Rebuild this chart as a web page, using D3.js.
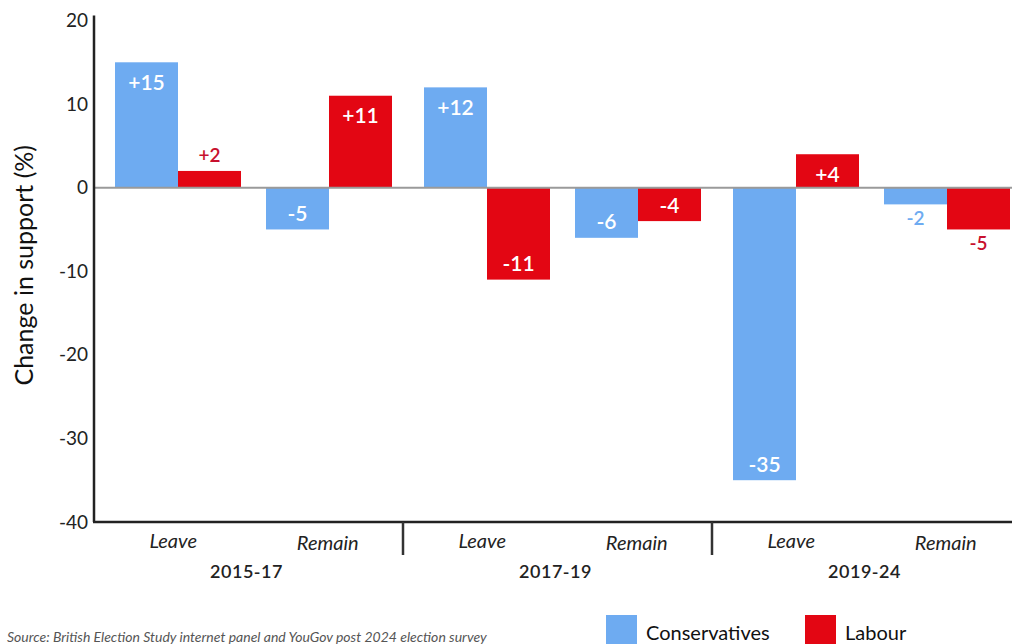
<!DOCTYPE html>
<html>
<head>
<meta charset="utf-8">
<script src="https://cdn.jsdelivr.net/npm/d3@7"></script>
<style>
  html, body { margin: 0; padding: 0; background: #fff; }
  svg { display: block; font-family: Lato, "Open Sans", sans-serif; }
</style>
</head>
<body>
<svg id="chart" width="1012" height="644"></svg>
<script>
// Change in party support among Leave and Remain voters, by election period
const periods = ["2015-17", "2017-19", "2019-24"];
const groups = ["Leave", "Remain"];
const parties = ["Conservatives", "Labour"];
const conservatives = [15, -5, 12, -6, -35, -2];   // Leave, Remain per period
const labour = [2, 11, -11, -4, 4, -5];
const yTicks = [-40, -30, -20, -10, 0, 10, 20];
// value labels that sit beside their (short) bar instead of inside it
const outsideLabels = ["2015-17|Leave|Labour", "2019-24|Remain|Conservatives", "2019-24|Remain|Labour"];

const colors = { Conservatives: "#6eabf1", Labour: "#e30613" };
const outsideColors = { Conservatives: "#6eabf1", Labour: "#c8102e" };

const rows = [];
periods.forEach((p, i) => {
  groups.forEach((g, j) => {
    const k = i * groups.length + j;
    rows.push({ period: p, group: g, party: "Conservatives", value: conservatives[k] });
    rows.push({ period: p, group: g, party: "Labour", value: labour[k] });
  });
});

const svg = d3.select("#chart");
const plotLeft = 94, plotRight = 1021, plotTop = 20.5, plotBottom = 522;

const x0 = d3.scaleBand().domain(periods).range([plotLeft, plotRight]);
const x1 = d3.scaleBand().domain(groups)
  .range([8.5, 310.5]).paddingInner(0.1656).paddingOuter(0.0828);
const x2 = d3.scaleBand().domain(parties).range([0, x1.bandwidth()]);
const y = d3.scaleLinear().domain([-40, 20]).range([plotBottom, plotTop]);

const isOutside = d => outsideLabels.includes(`${d.period}|${d.group}|${d.party}`);

// bars
svg.append("g").selectAll("rect").data(rows).join("rect")
  .attr("x", d => x0(d.period) + x1(d.group) + x2(d.party))
  .attr("width", x2.bandwidth())
  .attr("y", d => y(Math.max(0, d.value)))
  .attr("height", d => Math.abs(y(d.value) - y(0)))
  .attr("fill", d => colors[d.party]);

// zero line
svg.append("line")
  .attr("x1", plotLeft).attr("x2", 1012)
  .attr("y1", y(0)).attr("y2", y(0))
  .attr("stroke", "#9a9a9a").attr("stroke-width", 2);

// value labels
const fmt = v => (v > 0 ? "+" : "") + v;
svg.append("g").selectAll("text").data(rows).join("text")
  .attr("x", d => x0(d.period) + x1(d.group) + x2(d.party) + x2.bandwidth() / 2)
  .attr("y", d => {
    const out = isOutside(d);
    if (d.value >= 0) return out ? y(d.value) - 16 : y(d.value) + 19;
    return out ? y(d.value) + 13 : y(d.value) - 17;
  })
  .attr("text-anchor", "middle")
  .attr("dominant-baseline", "central")
  .attr("font-size", d => isOutside(d) ? 19 : 21)
  .attr("font-weight", 600)
  .attr("fill", d => isOutside(d) ? outsideColors[d.party] : "#fff")
  .text(d => fmt(d.value));

// y axis
const yAxis = svg.append("g")
  .attr("transform", `translate(${plotLeft},0)`)
  .call(d3.axisLeft(y).tickValues(yTicks).tickSize(0).tickPadding(6).tickFormat(d => String(d)));
yAxis.select(".domain").remove();
yAxis.append("line")
  .attr("y1", plotTop - 5).attr("y2", plotBottom)
  .attr("stroke", "#222").attr("stroke-width", 2.5);
yAxis.selectAll("text")
  .attr("font-family", "Lato, sans-serif")
  .attr("font-size", 19)
  .attr("fill", "#222");

// x axis baseline and period dividers
svg.append("line")
  .attr("x1", plotLeft - 1).attr("x2", 1012)
  .attr("y1", plotBottom).attr("y2", plotBottom)
  .attr("stroke", "#222").attr("stroke-width", 2.5);
svg.append("g").selectAll("line").data(periods.slice(1)).join("line")
  .attr("x1", d => x0(d)).attr("x2", d => x0(d))
  .attr("y1", plotBottom).attr("y2", plotBottom + 33)
  .attr("stroke", "#333").attr("stroke-width", 2.5);

// Leave / Remain labels
const subLabels = [];
periods.forEach(p => groups.forEach(g => subLabels.push({ p, g })));
svg.append("g").selectAll("text").data(subLabels).join("text")
  .attr("x", d => x0(d.p) + (groups.indexOf(d.g) + 0.5) * x0.bandwidth() / 2 + 2)
  .attr("y", d => plotBottom + (d.g === "Leave" ? 18 : 20))
  .attr("text-anchor", "middle")
  .attr("dominant-baseline", "central")
  .attr("font-style", "italic")
  .attr("font-size", 20)
  .attr("fill", "#222")
  .text(d => d.g);

// period labels
svg.append("g").selectAll("text").data(periods).join("text")
  .attr("x", d => x0(d) + x0.bandwidth() / 2 - 2)
  .attr("y", plotBottom + 49)
  .attr("text-anchor", "middle")
  .attr("dominant-baseline", "central")
  .attr("font-size", 18)
  .attr("font-weight", 600)
  .attr("letter-spacing", 0.5)
  .attr("fill", "#222")
  .text(d => d);

// y axis title
svg.append("text")
  .attr("transform", `translate(23,${(plotTop + plotBottom) / 2 - 6}) rotate(-90)`)
  .attr("text-anchor", "middle")
  .attr("dominant-baseline", "central")
  .attr("font-size", 25)
  .attr("fill", "#111")
  .text("Change in support (%)");

// legend
const legend = svg.append("g").selectAll("g").data(parties).join("g")
  .attr("transform", (d, i) => `translate(${i === 0 ? 606 : 805},615)`);
legend.append("rect").attr("width", 31).attr("height", 31).attr("fill", d => colors[d]);
legend.append("text")
  .attr("x", 40).attr("y", 17)
  .attr("dominant-baseline", "central")
  .attr("font-size", 20)
  .attr("fill", "#111")
  .text(d => d);

// source note
svg.append("text")
  .attr("x", 7).attr("y", 642)
  .attr("font-style", "italic")
  .attr("font-size", 14)
  .attr("fill", "#555")
  .text("Source: British Election Study internet panel and YouGov post 2024 election survey");
</script>
</body>
</html>
